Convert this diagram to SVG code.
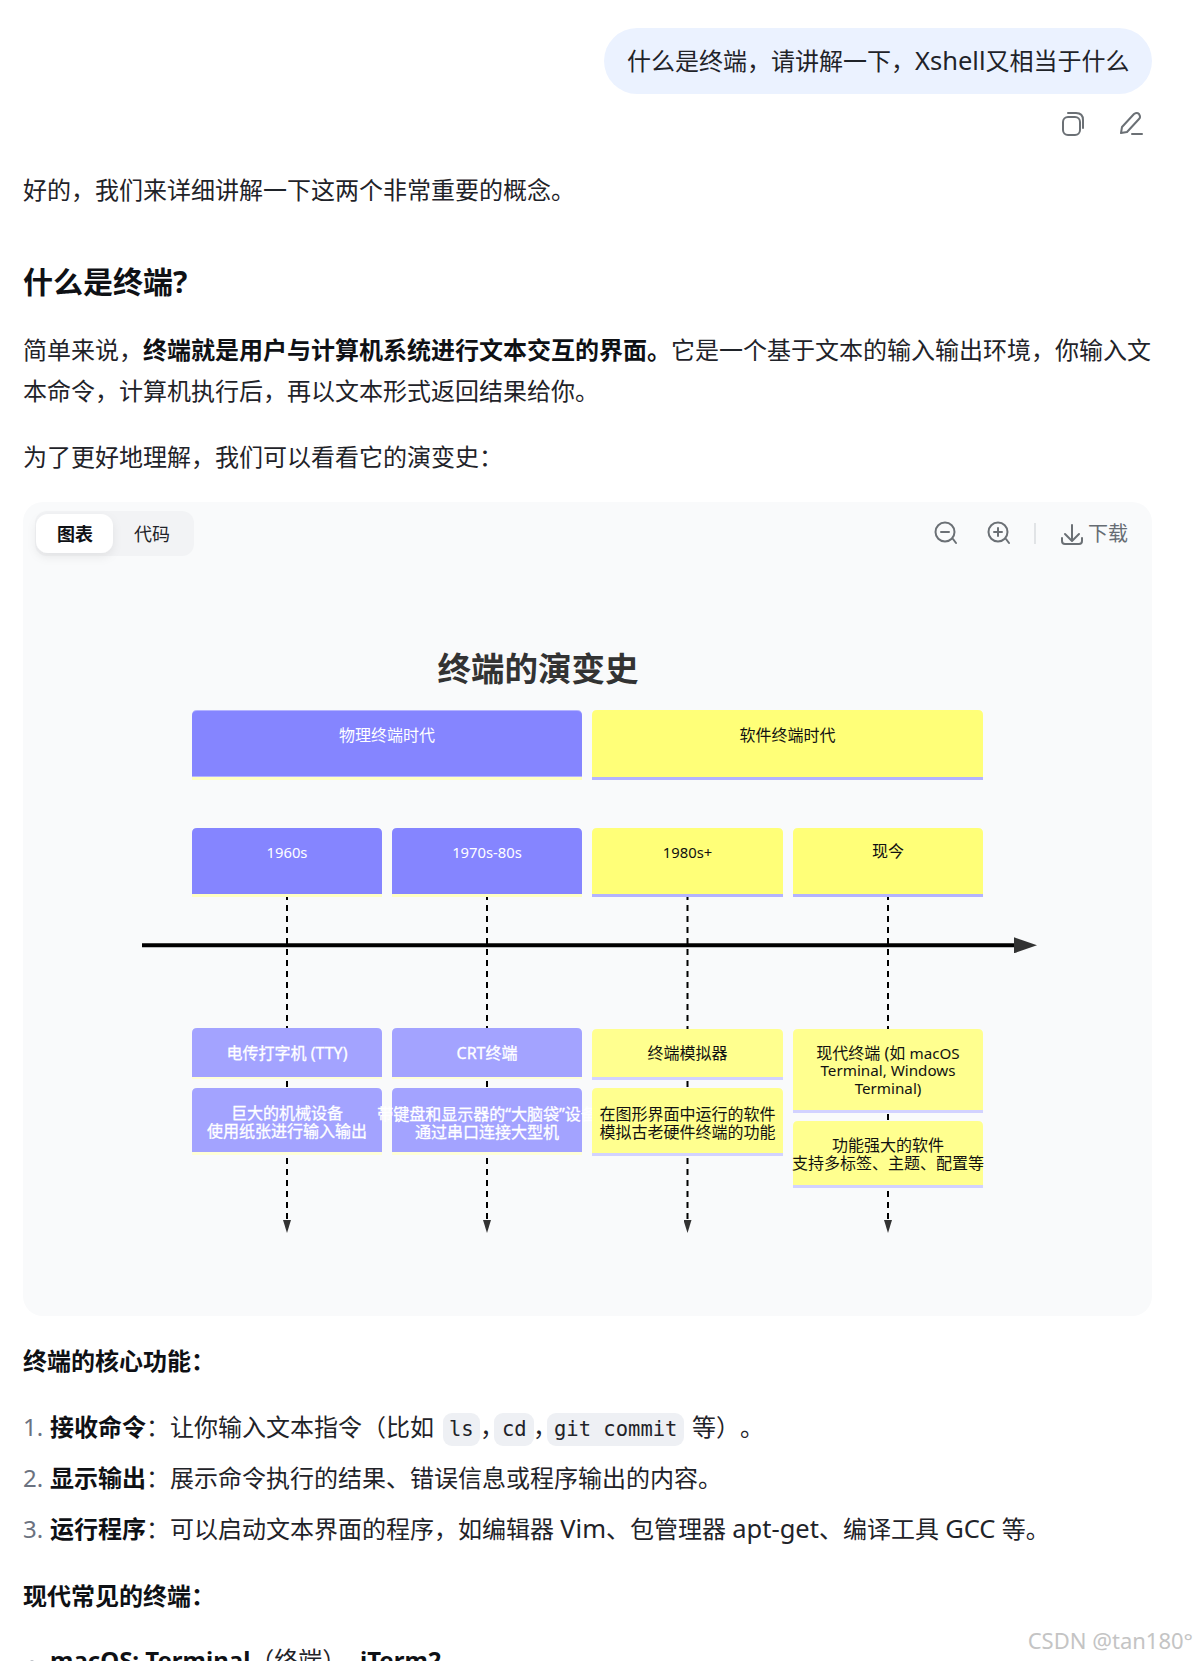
<svg xmlns="http://www.w3.org/2000/svg" width="1197" height="1661" viewBox="0 0 1197 1661">
<style>
text{font-family:"Noto Sans","Noto Sans CJK SC",sans-serif;fill:#1f2329;text-spacing-trim:space-all}
.b{font-size:24px}
.bold{font-weight:700;fill:#0f1115}
.lat{font-size:25.500px}
.code{font-family:"DejaVu Sans Mono","Liberation Mono",monospace;font-size:20.500px}
.pill{fill:#eef0f4}
.ic{fill:none;stroke:#6b7075;stroke-width:2;stroke-linecap:round;stroke-linejoin:round}
.lbl{font-size:16px;text-anchor:middle}
.yr{font-size:14.800px}
.tl{font-size:15.200px}
.w{fill:#fff}
.m{stroke:#fff;stroke-width:.3px}
.k{fill:#111}
.blue{fill:#8585ff}
.lblue{fill:#a3a3ff}
.yel{fill:#ffff78}
.lyel{fill:#ffff8f}
.sy{fill:#ffffc2}
.sb{fill:#b3b3ff}
.sb2{fill:#d2d2ff}
.sy2{fill:#ffffd6}
.dash{stroke:#000;stroke-width:2;stroke-dasharray:6 5;fill:none}
</style>
<defs>
<marker id="big" markerUnits="userSpaceOnUse" markerWidth="24" markerHeight="16" refX="0" refY="8" orient="auto"><path d="M0 0L23 8L0 16Z" fill="#333"/></marker>
<marker id="small" markerUnits="userSpaceOnUse" markerWidth="13" markerHeight="8" refX="0" refY="4" orient="auto"><path d="M0 0L13 4L0 8Z" fill="#333"/></marker>
<filter id="tabshadow" x="-30%" y="-30%" width="160%" height="180%"><feDropShadow dx="0" dy="4" stdDeviation="5" flood-color="#000" flood-opacity=".07"/></filter>
</defs>
<rect width="1197" height="1661" fill="#fff"/>
<g id="question">
<rect x="604" y="28" width="548" height="66" rx="33" fill="#ebf2ff"/>
<text x="627" y="70" class="b">什么是终端，请讲解一下，<tspan class="lat">Xshell</tspan>又相当于什么</text>
</g>
<g id="actions">
<rect x="1063" y="117" width="17" height="18" rx="5" class="ic"/>
<path d="M1068 113h8q7 0 7 7v8" class="ic"/>
<path d="M1121 133l1-6l12-13q3-2 5 0q2 3 0 5l-12 13z" class="ic"/>
<path d="M1132 134h10" class="ic"/>
</g>
<text x="23" y="199" class="b">好的，我们来详细讲解一下这两个非常重要的概念。</text>
<text x="23" y="293" font-size="30" class="bold">什么是终端?</text>
<text x="23" y="359" class="b">简单来说，<tspan class="bold">终端就是用户与计算机系统进行文本交互的界面。</tspan>它是一个基于文本的输入输出环境，你输入文</text>
<text x="23" y="400" class="b">本命令，计算机执行后，再以文本形式返回结果给你。</text>
<text x="23" y="466" class="b">为了更好地理解，我们可以看看它的演变史：</text>
<g id="card">
<rect x="23" y="502" width="1129" height="814" rx="20" fill="#f9fafb"/>
<rect x="35" y="511" width="159" height="45" rx="12" fill="#f2f3f5"/>
<rect x="36" y="514" width="77" height="39" rx="12" fill="#fff" filter="url(#tabshadow)"/>
<text x="75" y="541" font-size="18" text-anchor="middle" class="bold">图表</text>
<text x="152" y="541" font-size="18" text-anchor="middle">代码</text>
<g id="toolbar">
<circle cx="945" cy="532" r="9.500" class="ic"/><path d="M941 532h8M953 539l3 4" class="ic"/>
<circle cx="998" cy="532" r="9.500" class="ic"/><path d="M994 532h8M998 528v8M1006 539l3 4" class="ic"/>
<path d="M1035 523v21" stroke="#c9cdd1" fill="none"/>
<path d="M1072 525v15M1065 534l7 7l7-7M1062 538v3q0 3 3 3h14q3 0 3-3v-3" class="ic"/>
<text x="1088" y="541" font-size="20" style="fill:#666c73">下载</text>
</g>
</g>
<text x="538" y="681" font-size="33.500" font-weight="700" text-anchor="middle" style="fill:#333">终端的演变史</text>
<g id="connectors">
<path class="dash" d="M287 894V1220" marker-end="url(#small)"/>
<path class="dash" d="M487 894V1220" marker-end="url(#small)"/>
<path class="dash" d="M687.500 894V1220" marker-end="url(#small)"/>
<path class="dash" d="M888 894V1220" marker-end="url(#small)"/>
<path d="M142 945.300H1014" stroke="#000" stroke-width="4" fill="none" marker-end="url(#big)"/>
</g>
<g id="section-physical">
<path class="sy" d="M192 775h390v5h-390z"/>
<path class="sb" d="M197 710h380q5 0 5 5v62h-390v-62q0-5 5-5z"/>
<path class="blue" d="M197 711h380q5 0 5 5v60h-390v-60q0-5 5-5z"/>
<text x="387" y="741" class="lbl w">物理终端时代</text>
</g>
<g id="section-software">
<path class="sb" d="M592 776h391v4h-391z"/>
<path class="yel" d="M597 710h381q5 0 5 5v62h-391v-62q0-5 5-5z"/>
<text x="787.500" y="741" class="lbl k">软件终端时代</text>
</g>
<g id="period-1960s">
<path class="sy" d="M192 893h190v4h-190z"/>
<path class="blue" d="M197 828h180q5 0 5 5v61h-190v-61q0-5 5-5z"/>
<text x="287" y="858" class="lbl yr w">1960s</text>
</g>
<g id="period-1970s">
<path class="sy" d="M392 893h190v4h-190z"/>
<path class="blue" d="M397 828h180q5 0 5 5v61h-190v-61q0-5 5-5z"/>
<text x="487" y="858" class="lbl yr w">1970s-80s</text>
</g>
<g id="period-1980s">
<path class="sb" d="M592 893h191v4h-191z"/>
<path class="yel" d="M597 828h181q5 0 5 5v61h-191v-61q0-5 5-5z"/>
<text x="687.500" y="858" class="lbl yr k">1980s+</text>
</g>
<g id="period-now">
<path class="sb" d="M793 893h190v4h-190z"/>
<path class="yel" d="M798 828h180q5 0 5 5v61h-190v-61q0-5 5-5z"/>
<text x="888" y="857" class="lbl k">现今</text>
</g>
<g id="task-tty">
<path class="sy2" d="M192 1075h190v4h-190z"/>
<path class="lblue" d="M197 1028h180q5 0 5 5v44h-190v-44q0-5 5-5z"/>
<text x="287" y="1059" class="lbl w m">电传打字机 (TTY)</text>
</g>
<g id="task-crt">
<path class="sy2" d="M392 1075h190v4h-190z"/>
<path class="lblue" d="M397 1028h180q5 0 5 5v44h-190v-44q0-5 5-5z"/>
<text x="487" y="1059" class="lbl w m">CRT终端</text>
</g>
<g id="task-emulator">
<path class="sb2" d="M592 1076h191v4h-191z"/>
<path class="lyel" d="M597 1029h181q5 0 5 5v43h-191v-43q0-5 5-5z"/>
<text x="687.500" y="1059" class="lbl k">终端模拟器</text>
</g>
<g id="task-modern">
<path class="sb2" d="M793 1109h190v4h-190z"/>
<path class="lyel" d="M798 1029h180q5 0 5 5v76h-190v-76q0-5 5-5z"/>
<text x="888" y="1059" class="lbl k">现代终端 (如 <tspan class="tl">macOS</tspan></text>
<text x="888" y="1076" class="lbl tl k">Terminal, Windows</text>
<text x="888" y="1094" class="lbl tl k">Terminal)</text>
</g>
<g id="note-tty">
<path class="sy2" d="M192 1151h190v4h-190z"/>
<path class="lblue" d="M197 1088h180q5 0 5 5v59h-190v-59q0-5 5-5z"/>
<text x="287" y="1119" class="lbl w m">巨大的机械设备</text>
<text x="287" y="1137" class="lbl w m">使用纸张进行输入输出</text>
</g>
<g id="note-crt">
<path class="sy2" d="M392 1151h190v4h-190z"/>
<path class="lblue" d="M397 1088h180q5 0 5 5v59h-190v-59q0-5 5-5z"/>
<text x="487" y="1120" class="lbl w m">带键盘和显示器的“大脑袋”设备</text>
<text x="487" y="1138" class="lbl w m">通过串口连接大型机</text>
</g>
<g id="note-emulator">
<path class="sb2" d="M592 1152h191v4h-191z"/>
<path class="lyel" d="M597 1088h181q5 0 5 5v60h-191v-60q0-5 5-5z"/>
<text x="687.500" y="1120" class="lbl k">在图形界面中运行的软件</text>
<text x="687.500" y="1138" class="lbl k">模拟古老硬件终端的功能</text>
</g>
<g id="note-modern">
<path class="sb2" d="M793 1184h190v4h-190z"/>
<path class="lyel" d="M798 1121h180q5 0 5 5v59h-190v-59q0-5 5-5z"/>
<text x="888" y="1151" class="lbl k">功能强大的软件</text>
<text x="888" y="1169" class="lbl k">支持多标签、主题、配置等</text>
</g>
<text x="23" y="1370" class="b bold">终端的核心功能：</text>
<g id="list">
<text x="23" y="1436" class="b" style="fill:#6b7280">1.</text>
<text x="50" y="1436" class="b"><tspan class="bold">接收命令</tspan>：让你输入文本指令（比如</text>
<rect x="443" y="1413" width="37" height="33" rx="9" class="pill"/>
<text x="449" y="1436" class="code">ls</text>
<text x="480" y="1436" class="b">，</text>
<rect x="494" y="1413" width="40" height="33" rx="9" class="pill"/>
<text x="502" y="1436" class="code">cd</text>
<text x="533" y="1436" class="b">，</text>
<rect x="547" y="1413" width="137" height="33" rx="9" class="pill"/>
<text x="554" y="1436" class="code">git commit</text>
<text x="692" y="1436" class="b">等）。</text>
<text x="23" y="1487" class="b" style="fill:#6b7280">2.</text>
<text x="50" y="1487" class="b"><tspan class="bold">显示输出</tspan>：展示命令执行的结果、错误信息或程序输出的内容。</text>
<text x="23" y="1538" class="b" style="fill:#6b7280">3.</text>
<text x="50" y="1538" class="b"><tspan class="bold">运行程序</tspan>：可以启动文本界面的程序，如编辑器 <tspan class="lat">Vim</tspan>、包管理器 <tspan class="lat">apt-get</tspan>、编译工具 <tspan class="lat">GCC</tspan> 等。</text>
</g>
<text x="23" y="1605" class="b bold">现代常见的终端：</text>
<circle cx="32" cy="1664" r="3.500" fill="#6b7280"/>
<text x="50" y="1669" class="b"><tspan class="bold">macOS: Terminal</tspan>（终端）、</text>
<text x="360" y="1669" class="b bold">iTerm2</text>
<text x="1193" y="1649" font-size="22" text-anchor="end" style="fill:#c4c4c4">CSDN @tan180°</text>
</svg>
